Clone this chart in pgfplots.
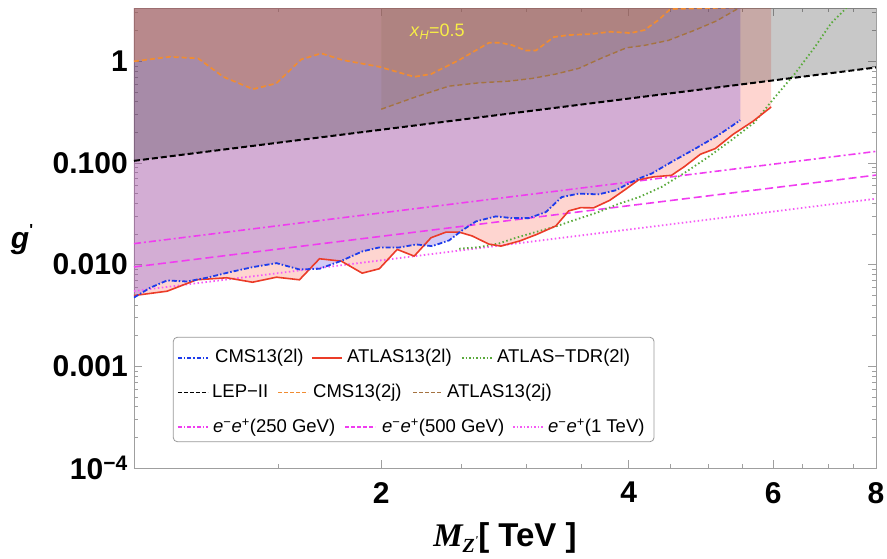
\documentclass[border=0pt]{standalone}
\usepackage{pgfplots}
\pgfplotsset{compat=1.18}
\usepackage{pgfplotstable}
\usepackage{fontspec}
\setmainfont{Liberation Sans}
\newfontfamily\tnr{Liberation Serif}

\definecolor{cmsblue}{RGB}{30,60,235}
\definecolor{atlred}{RGB}{235,60,40}
\definecolor{tdrgreen}{RGB}{90,170,60}
\definecolor{cmsorange}{RGB}{240,140,50}
\definecolor{atlbrown}{RGB}{165,115,65}
\definecolor{eemag}{RGB}{240,60,240}
\definecolor{eemagb}{RGB}{245,90,245}
\definecolor{fillpink}{RGB}{250,80,60}
\definecolor{fillblue}{RGB}{114,83,221}
\definecolor{fillgray}{RGB}{40,40,40}
\definecolor{fillorange}{RGB}{221,133,75}
\definecolor{fillbrown}{RGB}{130,100,70}
\definecolor{xhyellow}{RGB}{248,238,70}

\tikzset{
 cmsl/.style={draw=cmsblue, line width=1.8pt, dash pattern=on 5pt off 2pt on 1.5pt off 2pt},
 atll/.style={draw=atlred, line width=1.6pt},
 tdr/.style={draw=tdrgreen, line width=1.8pt, dash pattern=on 1.5pt off 2.5pt},
 lep/.style={draw=black, line width=2pt, dash pattern=on 6pt off 3pt},
 cmsj/.style={draw=cmsorange, line width=1.7pt, dash pattern=on 5pt off 3pt},
 atlj/.style={draw=atlbrown, line width=1.4pt, dash pattern=on 5pt off 3pt},
 eeA/.style={draw=eemag, line width=1.6pt, dash pattern=on 7pt off 3pt on 2pt off 3pt},
 eeB/.style={draw=eemag, line width=1.6pt, dash pattern=on 8pt off 4pt},
 eeC/.style={draw=eemagb, line width=1.8pt, dash pattern=on 1.5pt off 2.5pt},
}

% CMS13(2l): 34 points + 2 corner rows for the excluded region
\pgfplotstableread{
x y
1.000 0.00475
1.046 0.00592
1.097 0.00699
1.160 0.00683
1.226 0.00743
1.308 0.00844
1.394 0.00945
1.491 0.01035
1.590 0.00897
1.682 0.00911
1.793 0.0110
1.896 0.01349
1.989 0.01477
2.102 0.01474
2.205 0.0158
2.306 0.01522
2.418 0.01731
2.508 0.02173
2.608 0.02665
2.757 0.02985
2.884 0.0287
3.024 0.0287
3.172 0.0329
3.316 0.04624
3.477 0.04994
3.677 0.04915
3.857 0.05383
3.999 0.06266
4.113 0.0702
4.265 0.0786
4.510 0.1023
4.823 0.1386
5.142 0.1875
5.469 0.2634
5.469 10
1.000 10
}\cmstab

% ATLAS13(2l): 36 points + 2 corners
\pgfplotstableread{
x y
1.000 0.00497
1.097 0.00548
1.192 0.0071
1.297 0.00743
1.394 0.00672
1.491 0.00753
1.590 0.0071
1.682 0.01143
1.788 0.01083
1.896 0.00825
1.989 0.00911
2.091 0.01412
2.193 0.01213
2.299 0.01841
2.398 0.0209
2.487 0.0209
2.579 0.01918
2.704 0.01592
2.797 0.01522
2.949 0.01712
3.092 0.01984
3.262 0.02405
3.382 0.03381
3.497 0.03636
3.626 0.0362
3.793 0.0429
3.966 0.0551
4.113 0.0683
4.289 0.0731
4.510 0.0756
4.677 0.0922
4.891 0.1219
5.100 0.1386
5.363 0.1918
5.669 0.2575
5.965 0.356
5.965 10
1.000 10
}\atltab

% ATLAS-TDR(2l)
\pgfplotstableread{
x y
2.487 0.01434
2.630 0.01487
2.781 0.01618
2.900 0.01812
3.050 0.02043
3.262 0.02378
3.477 0.02833
3.677 0.0329
3.889 0.03963
4.113 0.04594
4.385 0.058
4.690 0.081
5.000 0.1146
5.333 0.1674
5.686 0.249
6.031 0.447
6.377 0.760
6.745 1.390
7.052 2.362
7.355 3.32
7.440 3.9
}\tdrtab

% CMS13(2j): 27 points + 2 corners
\pgfplotstableread{
x y
1.000 1.0
1.106 1.107
1.197 1.068
1.284 0.704
1.396 0.532
1.490 0.606
1.598 1.044
1.690 1.196
1.795 1.028
1.989 0.883
2.193 0.704
2.298 0.748
2.487 1.028
2.704 1.521
2.794 1.521
2.884 1.444
2.999 1.275
3.084 1.275
3.243 1.731
3.382 1.812
3.596 1.854
3.803 1.953
4.021 1.896
4.182 2.029
4.348 2.546
4.497 3.268
5.469 3.40
5.469 10
1.000 10
}\cmsjtab

% ATLAS13(2j): 15 points + 2 corners
\pgfplotstableread{
x y
2.000 0.338
2.203 0.447
2.418 0.570
2.630 0.614
2.860 0.638
3.050 0.678
3.258 0.748
3.477 0.851
3.708 1.075
3.977 1.359
4.182 1.434
4.472 1.607
4.818 2.029
5.113 2.489
5.469 3.40
5.469 10
2.000 10
}\atljtab

% LEP-II: 2 points + 2 corners
\pgfplotstableread{
x y
1 0.105
8 0.87
8 10
1 10
}\leptab

\begin{document}
\begin{tikzpicture}
\begin{axis}[
  at={(0pt,0pt)}, anchor=south west,
  scale only axis, width=742pt, height=460pt,
  xmode=log, ymode=log,
  xmin=1, xmax=8, ymin=1e-4, ymax=3.344,
  xtick={2,4,6,8}, xticklabels={2,4,6,8},
  minor xtick={1.5,2.5,3,3.5,4.5,5,5.5,6.5,7,7.5},
  ytick={1e-4,0.001,0.01,0.1,1},
  yticklabels={10\textsuperscript{−4},0.001,0.010,0.100,1},
  minor ytick={2e-4,3e-4,4e-4,5e-4,6e-4,7e-4,8e-4,9e-4,
    0.002,0.003,0.004,0.005,0.006,0.007,0.008,0.009,
    0.02,0.03,0.04,0.05,0.06,0.07,0.08,0.09,
    0.2,0.3,0.4,0.5,0.6,0.7,0.8,0.9,2,3},
  tick align=inside,
  major tick length=8pt, minor tick length=4pt,
  tick style={draw=gray!75, line width=0.7pt},
  axis line style={draw=gray!75, line width=0.8pt},
  ticklabel style={font=\fontsize{30}{36}\selectfont\bfseries},
  xticklabel style={inner sep=0pt, yshift=-14pt},
  yticklabel style={inner sep=0pt, xshift=-6pt},
]
% excluded regions
\addplot[draw=none, fill=fillpink, fill opacity=0.24] table {\atltab};
\addplot[draw=none, fill=fillblue, fill opacity=0.30] table {\cmstab};
\addplot[draw=none, fill=fillgray, fill opacity=0.256] table {\leptab};
\addplot[draw=none, fill=fillorange, fill opacity=0.30] table {\cmsjtab};
\addplot[draw=none, fill=fillbrown, fill opacity=0.15] table {\atljtab};
% e- e+ projections
\addplot[eeC] coordinates {(1,0.0055) (8,0.0445)};
\addplot[eeB] coordinates {(1,0.0095) (8,0.076)};
\addplot[eeA] coordinates {(1,0.0161) (8,0.130)};
% bounds
\addplot[tdr] table {\tdrtab};
\addplot[atll, skip coords between index={36}{38}] table {\atltab};
\addplot[cmsl, skip coords between index={34}{36}] table {\cmstab};
\addplot[lep, skip coords between index={2}{4}] table {\leptab};
\addplot[cmsj, skip coords between index={27}{29}] table {\cmsjtab};
\addplot[atlj, skip coords between index={15}{17}] table {\atljtab};
\node[text=xhyellow, font=\fontsize{18}{21}\selectfont] at (axis cs:2.34,1.94) {\textit{x}\textsubscript{\textit{H}}=0.5};
\end{axis}

% axis labels
\node[anchor=base, font=\fontsize{33}{38}\selectfont, inner sep=0pt] at (371pt,-78pt)
  {{\tnr\bfseries\itshape M}\raisebox{-6pt}{\fontsize{20}{20}\selectfont\tnr\bfseries\itshape Z\raisebox{8pt}{\fontsize{12}{12}\selectfont\textquotesingle}}{\bfseries[ TeV ]}};
\node[font=\fontsize{30}{36}\selectfont] at (-112pt,228pt)
  {{\bfseries\itshape g}\raisebox{13pt}{\fontsize{16}{16}\selectfont\bfseries\textquotesingle}};

% legend
\draw[gray!80, line width=0.8pt, rounded corners=4pt, fill=white] (39.3pt,26.3pt) rectangle (520pt,130.7pt);
\draw[draw=cmsblue, line width=1.8pt, dash pattern=on 4pt off 2pt on 1.5pt off 2pt] (44pt,110.3pt) -- (74pt,110.3pt);
\draw[draw=atlred, line width=1.8pt] (178pt,110.3pt) -- (208pt,110.3pt);
\draw[draw=tdrgreen, line width=1.8pt, dash pattern=on 1.5pt off 2pt] (328pt,110.3pt) -- (358pt,110.3pt);
\draw[draw=black, line width=1.5pt, dash pattern=on 4pt off 2pt] (44pt,75.3pt) -- (74pt,75.3pt);
\draw[draw=cmsorange, line width=1.5pt, dash pattern=on 4pt off 2pt] (144pt,75.3pt) -- (174pt,75.3pt);
\draw[draw=atlbrown, line width=1.5pt, dash pattern=on 4pt off 2pt] (279pt,75.3pt) -- (308pt,75.3pt);
\draw[draw=eemag, line width=1.8pt, dash pattern=on 4pt off 2pt on 1.5pt off 2pt] (44pt,40.7pt) -- (74pt,40.7pt);
\draw[draw=eemag, line width=1.8pt, dash pattern=on 4pt off 2pt] (211pt,40.7pt) -- (241pt,40.7pt);
\draw[draw=eemagb, line width=1.8pt, dash pattern=on 1.5pt off 2pt] (379pt,40.7pt) -- (409pt,40.7pt);
\begin{scope}[every node/.style={anchor=base west, inner sep=0pt, font=\fontsize{18.5}{22}\selectfont}]
\node at (81pt,105.7pt) {CMS13(2l)};
\node at (213pt,105.7pt) {ATLAS13(2l)};
\node at (363pt,105.7pt) {ATLAS−TDR(2l)};
\node at (78pt,70.3pt) {LEP−II};
\node at (179pt,70.3pt) {CMS13(2j)};
\node at (313pt,70.3pt) {ATLAS13(2j)};
\node at (79pt,35.3pt) {\textit{e}\textsuperscript{−}\textit{e}\textsuperscript{+}(250 GeV)};
\node at (248pt,35.3pt) {\textit{e}\textsuperscript{−}\textit{e}\textsuperscript{+}(500 GeV)};
\node at (414pt,35.3pt) {\textit{e}\textsuperscript{−}\textit{e}\textsuperscript{+}(1 TeV)};
\end{scope}

\pgfresetboundingbox
\path[use as bounding box] (-134pt,-90pt) rectangle (753pt,468pt);
\end{tikzpicture}
\end{document}
